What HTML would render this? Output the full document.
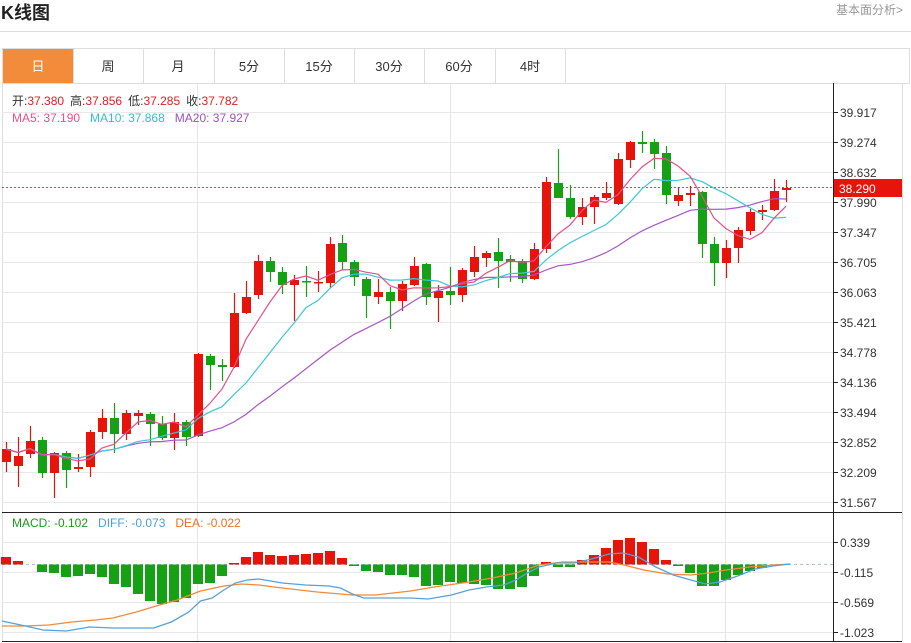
<!DOCTYPE html>
<html><head><meta charset="utf-8">
<style>
body{margin:0;width:911px;height:643px;background:#fff;overflow:hidden;font-family:"Liberation Sans","Noto Sans CJK SC",sans-serif;}
</style></head><body>
<svg id="s" width="911" height="643" xmlns="http://www.w3.org/2000/svg" style="position:absolute;left:0;top:0;font-family:'Liberation Sans','Noto Sans CJK SC',sans-serif">
<text x="1" y="19" font-size="18" font-weight="bold" fill="#222">K线图</text>
<text x="836" y="14" font-size="12" fill="#999">基本面分析&gt;</text>
<line x1="0" y1="31.5" x2="911" y2="31.5" stroke="#ddd"/>
<rect x="2.5" y="48.5" width="907" height="35" fill="#fff" stroke="#ddd"/>
<rect x="3" y="49" width="70" height="34" fill="#f28c3a"/>
<g font-size="13" fill="#333" text-anchor="middle">
<text x="38" y="71" fill="#fff">日</text>
<line x1="73.5" y1="49" x2="73.5" y2="83" stroke="#ddd"/><text x="108" y="71">周</text>
<line x1="143.5" y1="49" x2="143.5" y2="83" stroke="#ddd"/><text x="178" y="71">月</text>
<line x1="214.5" y1="49" x2="214.5" y2="83" stroke="#ddd"/><text x="249" y="71">5分</text>
<line x1="284.5" y1="49" x2="284.5" y2="83" stroke="#ddd"/><text x="319" y="71">15分</text>
<line x1="354.5" y1="49" x2="354.5" y2="83" stroke="#ddd"/><text x="389" y="71">30分</text>
<line x1="424.5" y1="49" x2="424.5" y2="83" stroke="#ddd"/><text x="459" y="71">60分</text>
<line x1="495.5" y1="49" x2="495.5" y2="83" stroke="#ddd"/><text x="530" y="71">4时</text>
<line x1="565.5" y1="49" x2="565.5" y2="83" stroke="#ddd"/>
</g>
<line x1="2.5" y1="83" x2="2.5" y2="641" stroke="#ddd"/>
<line x1="902.5" y1="83" x2="902.5" y2="641" stroke="#ddd"/>
<line x1="197.5" y1="83" x2="197.5" y2="641" stroke="#e6e6e6"/>
<line x1="450.5" y1="83" x2="450.5" y2="641" stroke="#e6e6e6"/>
<line x1="725.5" y1="83" x2="725.5" y2="641" stroke="#e6e6e6"/>
<g id="grid"></g>
<line x1="2" y1="187.5" x2="833" y2="187.5" stroke="#e04050" stroke-dasharray="2,2"/>
<g id="c"></g>
<g id="ma"></g>
<g id="m"></g>
<line x1="833.5" y1="83" x2="833.5" y2="641" stroke="#222"/>
<line x1="2" y1="512.5" x2="902" y2="512.5" stroke="#222"/>
<line x1="2" y1="641.5" x2="902" y2="641.5" stroke="#222"/>
<rect x="834" y="179" width="68" height="18" fill="#e8140c"/>
<text x="839" y="193" font-size="12" fill="#fff">38.290</text>
<g font-size="12">
<text x="12" y="105"><tspan fill="#333">开:</tspan><tspan fill="#e02020">37.380</tspan><tspan fill="#333" dx="6">高:</tspan><tspan fill="#e02020">37.856</tspan><tspan fill="#333" dx="6">低:</tspan><tspan fill="#e02020">37.285</tspan><tspan fill="#333" dx="6">收:</tspan><tspan fill="#e02020">37.782</tspan></text>
<text x="12" y="122"><tspan fill="#e8508a">MA5: 37.190</tspan><tspan fill="#30c0d0" dx="10">MA10: 37.868</tspan><tspan fill="#a050c0" dx="10">MA20: 37.927</tspan></text>
<text x="12" y="527"><tspan fill="#1a9a1a">MACD: -0.102</tspan><tspan fill="#4a9ee0" dx="10">DIFF: -0.073</tspan><tspan fill="#f07020" dx="10">DEA: -0.022</tspan></text>
</g>
</svg>
<script>
var NS="http://www.w3.org/2000/svg";
function el(p,t,a){var e=document.createElementNS(NS,t);for(var k in a)e.setAttribute(k,a[k]);if(t=="text"&&a.txt){e.textContent=a.txt;e.removeAttribute("txt");}document.getElementById(p).appendChild(e);return e;}
var labs=["39.917","39.274","38.632","37.990","37.347","36.705","36.063","35.421","34.778","34.136","33.494","32.852","32.209","31.567"];
for(var i=0;i<14;i++){var y=112+i*30;el("grid","line",{x1:2,y1:y+.5,x2:833,y2:y+.5,stroke:"#e8e8e8"});el("grid","line",{x1:833,y1:y+.5,x2:838,y2:y+.5,stroke:"#222"});el("grid","text",{x:840,y:y+5,"font-size":12,fill:"#333",txt:labs[i]});}
var ml=[["0.339",542],["-0.115",572],["-0.569",602],["-1.023",632]];
ml.forEach(function(m){el("grid","line",{x1:2,y1:m[1]+.5,x2:833,y2:m[1]+.5,stroke:"#e8e8e8"});el("grid","line",{x1:833,y1:m[1]+.5,x2:838,y2:m[1]+.5,stroke:"#222"});el("grid","text",{x:840,y:m[1]+5,"font-size":12,fill:"#333",txt:m[0]});});
el("grid","line",{x1:2,y1:564.5,x2:833,y2:564.5,stroke:"#a8c0d8","stroke-dasharray":"3,3"});
// [color(r/g), bodyTop, bodyBot, hi, lo]
var C=[["r",449,462,442,472],["r",456,466,437,487],["r",441,454,426,458],["g",440,473,437,478],["r",453,473,452,498],["g",453,470,451,488],["r",467,469,454,472],["r",432,467,430,477],["r",418,432,409,439],["g",418,434,403,453],["r",413,434,410,440],["r",413,416,410,425],["g",414,424,412,446],["g",424,438,416,440],["r",422,438,413,450],["g",422,437,420,446],["r",354,436,353,437],["g",356,365,354,390],["g",365,367,359,381],["r",313,367,293,368],["r",297,313,281,314],["r",261,295,255,299],["g",261,272,257,282],["g",272,285,267,294],["r",280,285,275,321],["g",281,282,266,297],["r",282,283,271,292],["r",244,283,237,288],["g",243,262,235,270],["g",262,277,260,286],["g",279,296,277,318],["r",292,297,279,304],["g",292,301,287,329],["r",284,301,281,311],["r",266,285,257,286],["g",264,297,263,305],["r",291,298,285,322],["g",291,295,267,305],["r",270,295,268,302],["r",257,272,246,277],["r",253,258,251,267],["g",252,261,238,288],["g",259,262,255,282],["g",261,279,259,283],["r",249,279,243,280],["r",182,249,177,253],["g",183,198,149,198],["g",198,217,185,219],["r",207,217,198,225],["r",197,207,195,224],["r",193,198,182,200],["r",159,204,153,205],["r",142,160,141,168],["g",142,144,131,153],["g",142,154,139,169],["g",153,195,146,204],["r",195,201,187,206],["r",193,195,186,206],["g",192,244,191,258],["g",244,263,237,286],["r",248,263,240,278],["r",230,248,227,263],["r",212,231,209,235],["r",210,212,205,220],["r",191,210,179,211],["r",188,190,180,202]];
var closes=[];
C.forEach(function(c,i){var x=6+12*i;var col=c[0]=="r"?"#e8140c":"#15a015";
el("c","line",{x1:x+.5,y1:c[3],x2:x+.5,y2:c[4],stroke:col,"stroke-width":1.2});
el("c","rect",{x:x-4,y:c[1],width:9,height:Math.max(1.5,c[2]-c[1]),fill:col});
closes.push(c[0]=="r"?c[1]:c[2]);});
function ma(n){var p=[];for(var i=0;i<closes.length;i++){var s=0,k=0;for(var j=Math.max(0,i-n+1);j<=i;j++){s+=closes[j];k++;}p.push((6+12*i)+","+(s/k).toFixed(1));}return p.join(" ");}
el("ma","polyline",{points:ma(20),fill:"none",stroke:"#a855c8","stroke-width":1.2});
el("ma","polyline",{points:ma(10),fill:"none",stroke:"#3cc8d4","stroke-width":1.2});
el("ma","polyline",{points:ma(5),fill:"none",stroke:"#e8508a","stroke-width":1.2});
var M=[557,561,564,572,573,577,576,574,577,584,587,594,601,604,602,598,584,583,576,563,557,552,555,556,555,554,553,551,558,566,571,572,575,575,577,586,585,582,583,584,585,589,589,587,576,562,567,567,560,555,548,540,538,542,549,560,566,573,586,586,580,575,571,568,565,564];
M.forEach(function(v,i){var x=6+12*i;var z=564.5;if(Math.abs(v-z)<1)return;var col=v<z?"#e8140c":"#15a015";el("m","rect",{x:x-5,y:Math.min(v,z),width:10,height:Math.abs(v-z),fill:col});});
var D=[[0,621],[40,626],[70,630],[110,631],[150,627],[190,628],[230,628],[260,628],[290,622],[320,612],[340,601],[360,598],[380,590],[400,583],[420,580],[440,579],[480,583],[520,585],[560,586],[580,588],[600,594],[620,598],[660,598],[700,598],[730,599],[770,595],[800,590],[830,587],[860,585],[880,580],[900,573],[920,567],[950,563],[980,563],[1010,559],[1040,554],[1065,553],[1090,557],[1120,567],[1150,575],[1180,580],[1205,584],[1230,582],[1260,576],[1290,569],[1320,566],[1350,564]];
var E=[[0,626],[40,626],[80,625],[120,622],[160,620],[190,618],[230,612],[270,605],[300,600],[340,591],[380,586],[410,584],[440,585],[480,588],[540,592],[600,595],[640,595],[700,591],[740,587],[800,582],[840,578],[880,573],[920,565],[960,562],[1000,562],[1040,562],[1065,565],[1100,570],[1140,574],[1180,575],[1210,573],[1240,570],[1280,567],[1320,565],[1350,564]];
function pl(a){return a.map(function(p){return (p[0]/1.713+2).toFixed(1)+","+p[1];}).join(" ");}
el("m","polyline",{points:pl(E),fill:"none",stroke:"#f08a3a","stroke-width":1.3});
el("m","polyline",{points:pl(D),fill:"none",stroke:"#5aa0d8","stroke-width":1.3});
</script>
</body></html>
